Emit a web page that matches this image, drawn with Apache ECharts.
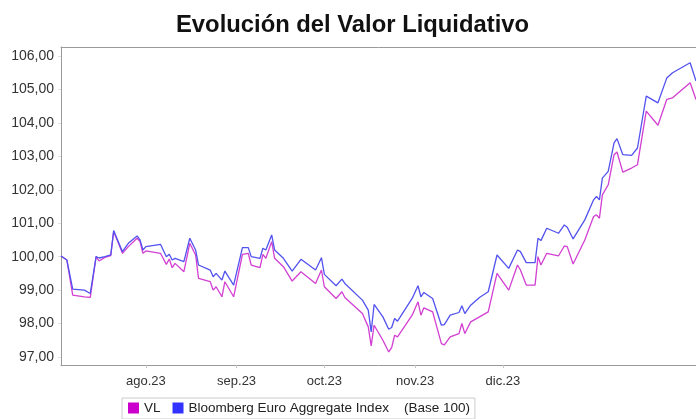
<!DOCTYPE html>
<html>
  <head>
    <meta charset="utf-8" />
    <title>Evolución del Valor Liquidativo</title>
    <script src="https://cdn.jsdelivr.net/npm/echarts@6/dist/echarts.min.js"></script>
    <style>
      html, body { margin: 0; padding: 0; background: #fff; }
      #main { width: 696px; height: 419px; }
    </style>
  </head>
  <body>
    <div id="main"></div>
    <script type="text/javascript">
// fechas de cada punto
let fechas = [
  '2023-07-03', '2023-07-05', '2023-07-07', '2023-07-11', '2023-07-13', '2023-07-15', '2023-07-16', '2023-07-18',
  '2023-07-20', '2023-07-21', '2023-07-24', '2023-07-26', '2023-07-29', '2023-07-30', '2023-07-31', '2023-08-01',
  '2023-08-06', '2023-08-08', '2023-08-09', '2023-08-10', '2023-08-11', '2023-08-14', '2023-08-16', '2023-08-18',
  '2023-08-19', '2023-08-23', '2023-08-24', '2023-08-25', '2023-08-27', '2023-08-28', '2023-08-31', '2023-09-03',
  '2023-09-05', '2023-09-06', '2023-09-09', '2023-09-10', '2023-09-11', '2023-09-13', '2023-09-14', '2023-09-17',
  '2023-09-20', '2023-09-23', '2023-09-28', '2023-09-30', '2023-10-01', '2023-10-05', '2023-10-07', '2023-10-08',
  '2023-10-14', '2023-10-16', '2023-10-17', '2023-10-18', '2023-10-21', '2023-10-23', '2023-10-24', '2023-10-25',
  '2023-10-26', '2023-10-31', '2023-11-02', '2023-11-03', '2023-11-04', '2023-11-07', '2023-11-10', '2023-11-11',
  '2023-11-13', '2023-11-16', '2023-11-17', '2023-11-18', '2023-11-20', '2023-11-23', '2023-11-26', '2023-11-29',
  '2023-12-03', '2023-12-06', '2023-12-07', '2023-12-09', '2023-12-12', '2023-12-13', '2023-12-14', '2023-12-16',
  '2023-12-20', '2023-12-22', '2023-12-23', '2023-12-25', '2023-12-29', '2024-01-01', '2024-01-02', '2024-01-03',
  '2024-01-04', '2024-01-06', '2024-01-08', '2024-01-09', '2024-01-11', '2024-01-14', '2024-01-16', '2024-01-19',
  '2024-01-23', '2024-01-26', '2024-01-28', '2024-02-03', '2024-02-05'
];
// VL (base 100)
let vl = [
  100.02, 99.90, 98.85, 98.80, 98.78, 100.00, 99.87, 99.98,
  100.03, 100.75, 100.10, 100.30, 100.55, 100.45, 100.10, 100.17,
  100.10, 99.77, 99.93, 99.67, 99.80, 99.55, 100.40, 100.05,
  99.35, 99.25, 99.00, 99.10, 98.80, 99.25, 98.80, 100.07,
  100.10, 99.75, 99.67, 100.07, 99.95, 100.45, 99.95, 99.70,
  99.27, 99.55, 99.20, 99.60, 99.10, 98.75, 98.95, 98.78,
  98.30, 97.90, 97.33, 97.95, 97.50, 97.15, 97.28, 97.65,
  97.60, 98.25, 98.65, 98.25, 98.47, 98.35, 97.40, 97.36,
  97.60, 97.70, 98.00, 97.70, 98.05, 98.20, 98.35, 99.50,
  99.00, 99.75, 99.60, 99.15, 99.15, 100.00, 99.75, 100.10,
  100.02, 100.32, 100.30, 99.78, 100.50, 101.20, 101.25, 101.15,
  101.85, 102.15, 103.05, 103.13, 102.53, 102.65, 102.75, 104.35,
  103.93, 104.70, 104.75, 105.20, 104.70
];
// Bloomberg Euro Aggregate Index (base 100)
let indice = [
  100.02, 99.90, 99.03, 99.00, 98.90, 100.00, 99.96, 100.00,
  100.05, 100.78, 100.15, 100.40, 100.62, 100.50, 100.20, 100.30,
  100.37, 100.00, 100.07, 99.90, 99.95, 99.85, 100.55, 100.20,
  99.75, 99.60, 99.40, 99.50, 99.30, 99.57, 99.15, 100.27,
  100.27, 100.00, 99.95, 100.25, 100.20, 100.65, 100.20, 99.95,
  99.57, 99.92, 99.60, 99.97, 99.47, 99.13, 99.33, 99.20,
  98.70, 98.40, 97.75, 98.57, 98.20, 97.83, 97.88, 98.15,
  98.07, 98.75, 99.13, 98.80, 98.93, 98.75, 97.95, 97.97,
  98.25, 98.33, 98.53, 98.30, 98.55, 98.78, 98.95, 100.05,
  99.65, 100.20, 100.15, 99.82, 99.82, 100.55, 100.48, 100.85,
  100.70, 100.95, 100.88, 100.53, 101.10, 101.70, 101.80, 101.70,
  102.35, 102.55, 103.40, 103.53, 103.05, 103.03, 103.25, 104.80,
  104.60, 105.34, 105.50, 105.80, 105.25
];
// etiquetas del eje X y del eje Y
let mesesFechas = ['2023-08-01', '2023-09-01', '2023-10-01', '2023-11-01', '2023-12-01'];
let mesesTexto = ['ago.23', 'sep.23', 'oct.23', 'nov.23', 'dic.23'];
let valoresY = [97, 98, 99, 100, 101, 102, 103, 104, 105, 106];

// días desde el inicio de la serie
let inicio = '2023-07-03';
function dias(s) {
  let p = s.split('-');
  let q = inicio.split('-');
  let a = Date.UTC(+p[0], +p[1] - 1, +p[2]);
  let b = Date.UTC(+q[0], +q[1] - 1, +q[2]);
  return Math.round((a - b) / 86400000);
}
let mesesDias = mesesFechas.map(dias);
let maxDias = 217;
let ejeColor = '#9a9a9a';

var myChart = echarts.init(document.getElementById('main'));
var option = {
  animation: false,
  textStyle: { fontFamily: 'Liberation Sans, Arial, sans-serif' },
  title: {
    text: 'Evolución del Valor Liquidativo',
    left: 171,
    top: 8,
    textStyle: { fontSize: 23.8, fontWeight: 'bold', color: '#111' }
  },
  legend: {
    left: 122,
    top: 398,
    orient: 'horizontal',
    icon: 'rect',
    itemWidth: 11,
    itemHeight: 11,
    itemGap: 12,
    padding: [3, 5, 4, 6],
    borderColor: '#cccccc',
    borderWidth: 1,
    textStyle: { fontSize: 13.5, color: '#222', lineHeight: 14 },
    data: ['VL', 'Bloomberg Euro Aggregate Index    (Base 100)']
  },
  grid: {
    left: 61,
    top: 47,
    right: 0,
    bottom: 54,
    show: false
  },
  xAxis: [
    {
      type: 'value',
      min: 0,
      max: maxDias,
      axisLine: { show: true, lineStyle: { color: ejeColor } },
      splitLine: { show: false },
      axisTick: {
        show: true,
        length: 3,
        customValues: mesesDias,
        lineStyle: { color: '#c4c4c4' }
      },
      axisLabel: {
        customValues: mesesDias,
        fontSize: 13,
        color: '#333',
        margin: 10,
        formatter: function (v) {
          let i = mesesDias.indexOf(Math.round(v));
          return i >= 0 ? mesesTexto[i] : '';
        }
      }
    },
    {
      type: 'value',
      position: 'top',
      min: 0,
      max: maxDias,
      axisLine: { show: true, lineStyle: { color: ejeColor } },
      splitLine: { show: false },
      axisTick: { show: false },
      axisLabel: { show: false }
    }
  ],
  yAxis: {
    type: 'value',
    min: 96.76,
    max: 106.27,
    axisLine: { show: true, lineStyle: { color: ejeColor } },
    splitLine: { show: false },
    axisTick: {
      show: true,
      length: 3,
      customValues: valoresY,
      lineStyle: { color: '#e0e0e0' }
    },
    axisLabel: {
      customValues: valoresY,
      fontSize: 14,
      color: '#333',
      margin: 7,
      formatter: function (v) {
        return Number(v).toFixed(2).replace('.', ',');
      }
    }
  },
  series: [
    {
      name: 'VL',
      type: 'line',
      showSymbol: false,
      symbol: 'none',
      color: '#cc00cc',
      lineStyle: { width: 1.3, color: '#d23fd2' },
      data: fechas.map(function (f, i) { return [dias(f), vl[i]]; })
    },
    {
      name: 'Bloomberg Euro Aggregate Index    (Base 100)',
      type: 'line',
      showSymbol: false,
      symbol: 'none',
      color: '#3333ff',
      lineStyle: { width: 1.3, color: '#5252ee' },
      data: fechas.map(function (f, i) { return [dias(f), indice[i]]; })
    }
  ]
};
myChart.setOption(option);
    </script>
  </body>
</html>
